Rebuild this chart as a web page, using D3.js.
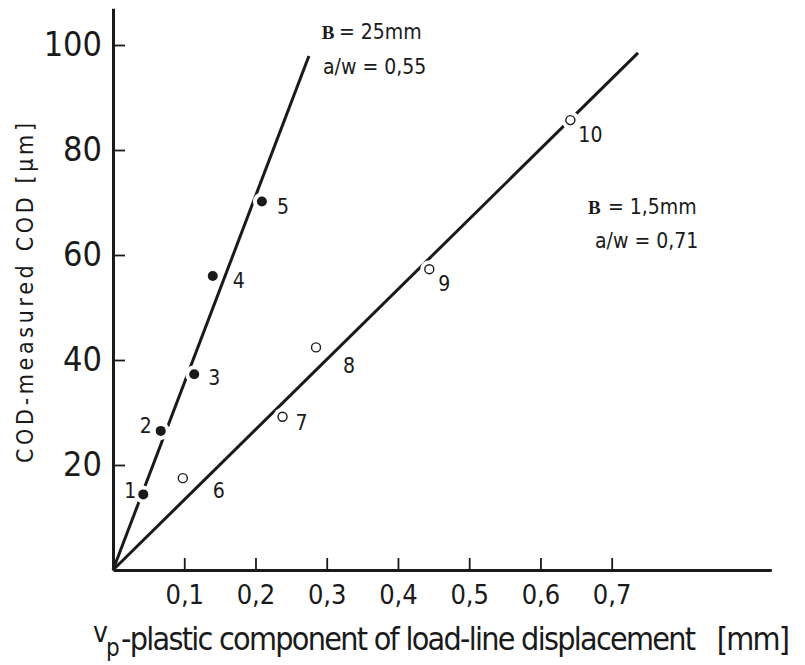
<!DOCTYPE html>
<html>
<head>
<meta charset="utf-8">
<script src="https://d3js.org/d3.v7.min.js"></script>
<style>
  body { margin:0; background:#fff; }
  svg text { font-family: "Liberation Sans Narrow", "DejaVu Sans Condensed", "Arial Narrow", sans-serif; fill:#1a1a1a; }
  .axis path, .axis line { stroke:#1a1a1a; }
  .serif { font-family: "Liberation Serif", "DejaVu Serif", serif !important; font-weight: bold; }
</style>
</head>
<body>
<div id="chart"></div>
<script>
// series A : B = 25 mm, a/w = 0,55  (filled dots)
const idsA = [1, 2, 3, 4, 5];
const xA = [0.0425, 0.067, 0.114, 0.140, 0.209];
const yA = [14.4, 26.5, 37.3, 56.0, 70.2];

// series B : B = 1,5 mm, a/w = 0,71  (open circles)
const idsB = [6, 7, 8, 9, 10];
const xB = [0.098, 0.238, 0.285, 0.444, 0.642];
const yB = [17.5, 29.2, 42.4, 57.3, 85.7];

// straight lines through the origin
const fitAX = [0, 0.275], fitAY = [0, 97.9];
const fitBX = [0, 0.737], fitBY = [0, 98.5];

// axes
const xTicks = [0.1, 0.2, 0.3, 0.4, 0.5, 0.6, 0.7];
const xTickLabels = ["0,1", "0,2", "0,3", "0,4", "0,5", "0,6", "0,7"];
const yTicks = [20, 40, 60, 80, 100];
const xMax = 0.924, yMax = 107;

// layout for the point numbers (pixel offsets from the point)
const labDxA = [-7, -9, 14, 20, 15], labDyA = [4, 2, 11, 12, 13];
const labDxB = [30, 13, 27, 9, 8],   labDyB = [20, 13, 26, 22, 22];

const W = 805, H = 665;
const x = d3.scaleLinear().domain([0, xMax]).range([113, 113 + 712.4 * xMax]);
const y = d3.scaleLinear().domain([0, yMax]).range([570, 570 - 5.25 * yMax]);

const svg = d3.select('#chart').append('svg')
    .attr('width', W).attr('height', H);

const ink = '#1a1a1a';

// fitted lines
const line = d3.line().x(d => x(d[0])).y(d => y(d[1]));
svg.append('path').datum(d3.zip(fitAX, fitAY))
    .attr('d', line).attr('fill', 'none').attr('stroke', ink).attr('stroke-width', 3);
svg.append('path').datum(d3.zip(fitBX, fitBY))
    .attr('d', line).attr('fill', 'none').attr('stroke', ink).attr('stroke-width', 3);

const ptsA = idsA.map((id, i) => ({id, x: xA[i], y: yA[i], dx: labDxA[i], dy: labDyA[i]}));
const ptsB = idsB.map((id, i) => ({id, x: xB[i], y: yB[i], dx: labDxB[i], dy: labDyB[i]}));

// white gaps in the lines around the points
svg.selectAll('.haloA').data(ptsA).enter().append('circle')
    .attr('cx', d => x(d.x)).attr('cy', d => y(d.y)).attr('r', 9).attr('fill', '#fff');
svg.selectAll('.haloB').data(ptsB).enter().append('circle')
    .attr('cx', d => x(d.x)).attr('cy', d => y(d.y)).attr('r', 9).attr('fill', '#fff');

// markers
svg.selectAll('.dotA').data(ptsA).enter().append('circle')
    .attr('cx', d => x(d.x)).attr('cy', d => y(d.y)).attr('r', 5).attr('fill', ink);
svg.selectAll('.dotB').data(ptsB).enter().append('circle')
    .attr('cx', d => x(d.x)).attr('cy', d => y(d.y)).attr('r', 4.5)
    .attr('fill', '#fff').attr('stroke', ink).attr('stroke-width', 1.4);

// point numbers
svg.selectAll('.labA').data(ptsA).enter().append('text')
    .attr('x', d => x(d.x) + d.dx).attr('y', d => y(d.y) + d.dy)
    .attr('text-anchor', d => d.dx < 0 ? 'end' : 'start')
    .attr('font-size', 21).text(d => d.id);
svg.selectAll('.labB').data(ptsB).enter().append('text')
    .attr('x', d => x(d.x) + d.dx).attr('y', d => y(d.y) + d.dy)
    .attr('font-size', 21).text(d => d.id);

// axes
const xAxis = d3.axisBottom(x).tickValues(xTicks)
    .tickFormat((d, i) => xTickLabels[i])
    .tickSizeInner(-12).tickSizeOuter(0).tickPadding(15);
const gx = svg.append('g').attr('class', 'axis')
    .attr('transform', 'translate(0,' + y(0) + ')').call(xAxis);
gx.select('.domain').attr('stroke-width', 3);
gx.selectAll('line').attr('stroke-width', 1.8);
gx.selectAll('text').attr('font-size', 27).attr('fill', ink)
    .style('font-family', '"Liberation Sans Narrow", "DejaVu Sans Condensed", sans-serif');

const yAxis = d3.axisLeft(y).tickValues(yTicks)
    .tickSizeInner(-12).tickSizeOuter(0).tickPadding(11);
const gy = svg.append('g').attr('class', 'axis')
    .attr('transform', 'translate(' + x(0) + ',0)').call(yAxis);
gy.select('.domain').attr('stroke-width', 3);
gy.selectAll('line').attr('stroke-width', 1.8);
gy.selectAll('text').attr('font-size', 34).attr('fill', ink)
    .style('font-family', '"Liberation Sans Narrow", "DejaVu Sans Condensed", sans-serif');

// axis titles
svg.append('text')
    .attr('transform', 'translate(33,293) rotate(-90)')
    .attr('text-anchor', 'middle').attr('font-size', 23)
    .attr('textLength', 340).attr('lengthAdjust', 'spacing')
    .text('COD-measured COD [µm]');

svg.append('text').attr('x', 93).attr('y', 642).attr('font-size', 28).text('v');
svg.append('text').attr('x', 106).attr('y', 656).attr('font-size', 24).text('p');
svg.append('text').attr('x', 121).attr('y', 650).attr('font-size', 32)
    .attr('textLength', 669).attr('lengthAdjust', 'spacing')
    .style('white-space', 'pre')
    .text('-plastic component of load-line displacement   [mm]');

// annotations (anchored in data units)
function note(vx, vy, str, cls, size) {
  const t = svg.append('text').attr('x', x(vx)).attr('y', y(vy))
      .attr('font-size', size).style('white-space', 'pre').text(str);
  if (cls) t.attr('class', cls);
}
note(0.293, 101.1, 'B', 'serif', 19);
note(0.3172, 101.1, '= 25mm', null, 21);
note(0.2948, 94.5, 'a/w = 0,55', null, 21);

note(0.6668, 67.8, 'B', 'serif', 19);
note(0.6948, 67.8, '= 1,5mm', null, 21);
note(0.6766, 61.3, 'a/w = 0,71', null, 21);
</script>
</body>
</html>
